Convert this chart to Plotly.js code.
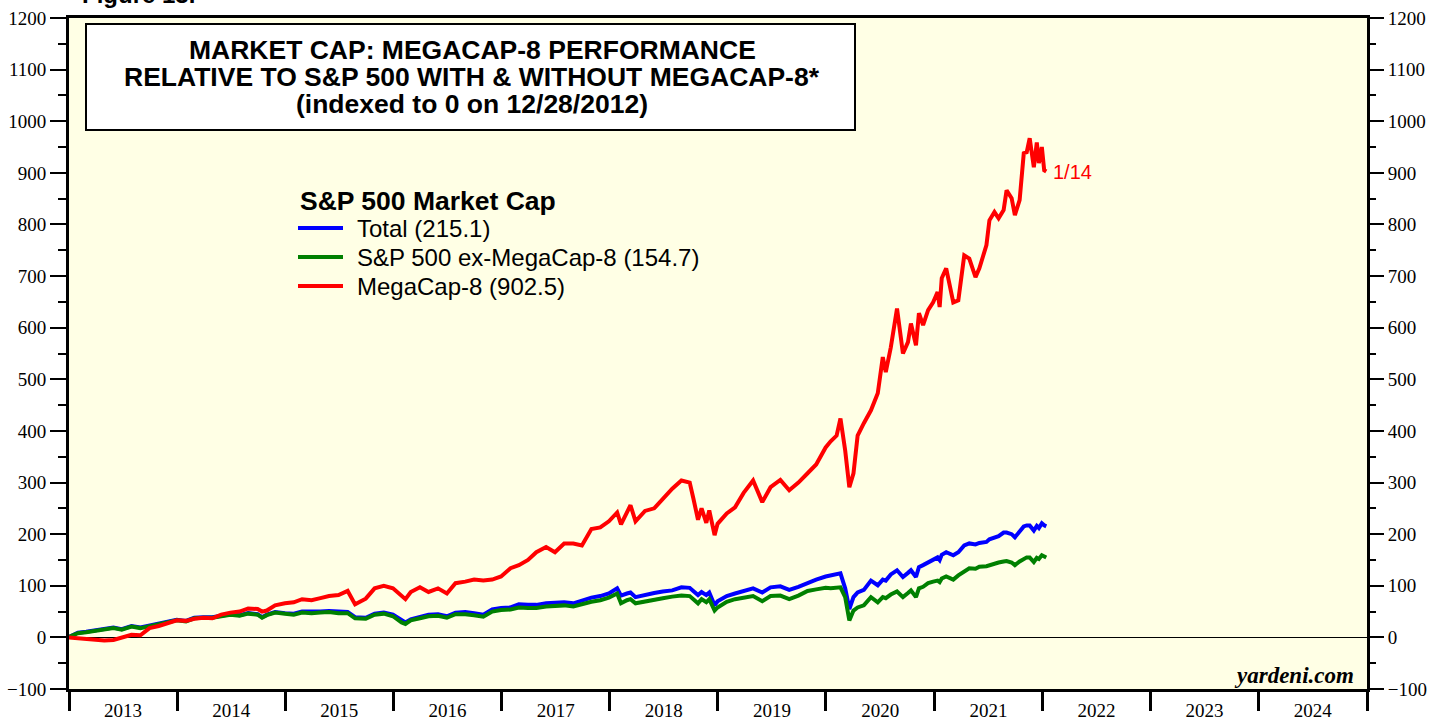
<!DOCTYPE html>
<html><head><meta charset="utf-8">
<script src="https://cdn.plot.ly/plotly-3.0.1.min.js"></script>
<style>html,body{margin:0;padding:0;background:#fff;} #chart{width:1446px;height:723px;}</style>
</head><body><div id="chart"></div>
<script>
// ---- data ----
const dates = [
 '2012-12-28',
 '2013-01-31','2013-02-28','2013-03-29','2013-04-30','2013-05-31','2013-06-28','2013-07-31','2013-08-30','2013-09-30','2013-10-31','2013-11-29','2013-12-31',
 '2014-01-31','2014-02-28','2014-03-31','2014-04-30','2014-05-30','2014-06-30','2014-07-31','2014-08-29','2014-09-30','2014-10-15','2014-10-31','2014-11-28','2014-12-31',
 '2015-01-30','2015-02-27','2015-03-31','2015-04-30','2015-05-29','2015-06-30','2015-07-31','2015-08-25','2015-09-30','2015-10-30','2015-11-30','2015-12-31',
 '2016-01-29','2016-02-11','2016-02-29','2016-03-31','2016-04-29','2016-05-31','2016-06-30','2016-07-29','2016-08-31','2016-09-30','2016-10-31','2016-11-30','2016-12-30',
 '2017-01-31','2017-02-28','2017-03-31','2017-04-28','2017-05-31','2017-06-30','2017-07-31','2017-08-31','2017-09-29','2017-10-31','2017-11-30','2017-12-29',
 '2018-01-26','2018-02-08','2018-02-28','2018-03-12','2018-03-29','2018-04-30','2018-05-31','2018-06-29','2018-07-31','2018-08-31','2018-09-28','2018-10-10','2018-10-26','2018-11-07','2018-11-23','2018-12-03','2018-12-21','2018-12-31',
 '2019-01-31','2019-02-28','2019-03-29','2019-04-30','2019-05-31','2019-06-28','2019-07-31','2019-08-30','2019-09-30','2019-10-31','2019-11-29','2019-12-31',
 '2020-01-17','2020-02-06','2020-02-19','2020-03-06','2020-03-20','2020-04-03','2020-04-17','2020-05-08','2020-06-01','2020-06-24','2020-07-11','2020-07-21','2020-08-07','2020-08-28','2020-09-17','2020-10-04','2020-10-14','2020-10-31','2020-11-10','2020-11-24','2020-12-11','2020-12-28',
 '2021-01-12','2021-01-19','2021-01-26','2021-02-10','2021-03-06','2021-03-23','2021-04-02','2021-04-12','2021-04-29','2021-05-20','2021-06-02','2021-06-26','2021-07-06','2021-07-23','2021-08-06','2021-08-23','2021-09-02','2021-09-19','2021-09-30','2021-10-16','2021-10-30','2021-11-09','2021-11-19','2021-12-03','2021-12-13','2021-12-20','2021-12-30',
 '2022-01-07','2022-01-14'
];
const totalVals = [
 0,
 9,11,14,16,19,16,22,19,23,28,31,34,
 32,38,39,39,42,45,43,47,45,39,44,49,47,
 46,50,49,50,51,49,49,39,38,46,48,44,
 32,29,35,40,44,45,41,48,49,47,44,54,57,
 58,64,63,63,66,67,68,66,72,77,80,85,
 95,81,85,87,78,83,86,89,91,97,96,90,82,88,82,87,62,70,
 80,85,90,95,87,97,99,92,98,106,112,118,
 120,122,124,95,55,78,87,92,110,101,112,110,122,130,117,125,130,117,136,140,145,152,
 155,150,160,165,159,165,172,178,182,180,183,185,190,194,196,203,203,200,194,205,215,217,217,207,216,212,221,
 217,215.1
];
const exMegaVals = [
 0,
 8,10,13,15,18,15,21,18,22,27,30,33,
 31,37,38,38,41,44,42,46,44,38,43,48,46,
 44,48,47,48,49,47,47,37,36,44,46,41,
 29,26,33,37,41,42,38,45,45,43,40,50,53,
 54,58,57,57,60,61,62,60,65,69,72,77,
 85,66,72,74,66,70,73,76,79,81,80,74,66,74,68,74,52,58,
 69,74,77,80,70,80,81,74,81,90,93,96,
 95,96,97,78,33,52,58,62,78,68,78,76,83,89,78,86,91,78,95,98,105,108,
 110,107,114,118,112,120,124,128,134,133,137,138,140,143,145,147,148,145,140,147,153,155,155,146,154,152,159,
 156,154.7
];
const megaVals = [
 0,
 -2,-4,-5,-6,-5,-1,5,4,18,22,28,33,
 32,36,38,37,44,48,50,56,55,50,52,62,66,
 68,74,72,76,80,82,90,64,75,95,100,95,
 80,74,88,97,88,95,85,105,108,112,110,112,118,
 134,140,150,165,175,165,182,182,178,210,213,225,
 242,219,240,256,225,245,250,268,288,304,300,270,228,250,222,246,198,220,
 240,252,280,304,262,291,305,285,300,318,335,368,
 380,391,424,362,291,318,391,415,440,473,543,514,562,637,550,572,608,566,628,605,634,649,
 669,640,696,715,649,653,696,740,734,698,715,760,808,824,812,828,866,851,818,847,938,940,967,911,959,919,950,
 905,902.5
];
const seriesNames = ['Total (215.1)', 'S&P 500 ex-MegaCap-8 (154.7)', 'MegaCap-8 (902.5)'];
const seriesColors = ['#0000ff', '#008000', '#ff0000'];
const legendTitle = 'S&P 500 Market Cap';
const titleLines = ['MARKET CAP: MEGACAP-8 PERFORMANCE', 'RELATIVE TO S&P 500 WITH & WITHOUT MEGACAP-8*', '(indexed to 0 on 12/28/2012)'];
const endLabel = '1/14';
const yTickVals = [-100,0,100,200,300,400,500,600,700,800,900,1000,1100,1200];
const xRange = ['2013-01-01', '2025-01-01'];
const yRange = [-100, 1200];

// ---- layout helpers (pixel -> paper) ----
const W = 1446, H = 723, L = 69, R = 1367, T = 18, B = 689;
const px = v => (v - L) / (R - L);
const py = v => (B - v) / (B - T);

const SANS = 'Liberation Sans, Arial, sans-serif';
const SERIF = 'Liberation Serif, Times New Roman, serif';

const seriesVals = [totalVals, exMegaVals, megaVals];
const traces = seriesVals.map((vals, i) => ({
  type: 'scatter', mode: 'lines', x: dates, y: vals, name: seriesNames[i],
  line: {color: seriesColors[i], width: 4}, showlegend: false, hoverinfo: 'skip'
}));

const shapes = [
  {type: 'rect', xref: 'paper', yref: 'paper', x0: px(86), x1: px(855), y0: py(130), y1: py(24),
   line: {color: '#000', width: 2}, fillcolor: '#ffffff', layer: 'above'}
];
const annotations = [];
const lineY = [50, 77, 104];
titleLines.forEach((t, i) => annotations.push({
  xref: 'paper', yref: 'paper', x: px(472), y: py(lineY[i]), xanchor: 'center', yanchor: 'middle',
  text: '<b>' + t + '</b>', showarrow: false, font: {family: SANS, size: 26.5, color: '#000'}
}));
// legend (drawn manually)
annotations.push({xref: 'paper', yref: 'paper', x: px(298), y: py(201), xanchor: 'left', yanchor: 'middle',
  text: '<b>' + legendTitle + '</b>', showarrow: false, font: {family: SANS, size: 26.5, color: '#000'}});
const legY = [228, 257, 286];
seriesNames.forEach((n, i) => {
  shapes.push({type: 'line', xref: 'paper', yref: 'paper', x0: px(298), x1: px(343), y0: py(legY[i]), y1: py(legY[i]),
    line: {color: seriesColors[i], width: 4}});
  annotations.push({xref: 'paper', yref: 'paper', x: px(355), y: py(legY[i]), xanchor: 'left', yanchor: 'middle',
    text: n, showarrow: false, font: {family: SANS, size: 24, color: '#000'}});
});
// end label
annotations.push({x: dates[dates.length - 1], y: megaVals[megaVals.length - 1], xref: 'x', yref: 'y',
  xanchor: 'left', yanchor: 'middle', xshift: 5, text: endLabel, showarrow: false,
  font: {family: SANS, size: 20, color: '#ff0000'}});
// source
annotations.push({xref: 'paper', yref: 'paper', x: px(1356), y: py(675), xanchor: 'right', yanchor: 'middle',
  text: '<b><i>yardeni.com</i></b>', showarrow: false, font: {family: SERIF, size: 23, color: '#000'}});
// clipped figure caption at the very top
annotations.push({xref: 'paper', yref: 'paper', x: px(80), y: py(-6), xanchor: 'left', yanchor: 'middle',
  text: '<b>Figure 13.</b>', showarrow: false, font: {family: SANS, size: 24, color: '#000'}});

const yCommon = {
  range: yRange, tickmode: 'array', tickvals: yTickVals, ticks: 'outside', ticklen: 16, tickwidth: 2,
  tickcolor: '#000', showgrid: false, tickfont: {family: SERIF, size: 19, color: '#000'},
  minor: {dtick: 50, tick0: 0, ticks: 'outside', ticklen: 8, tickwidth: 2, tickcolor: '#000', showgrid: false}
};

const layout = {
  width: W, height: H, margin: {l: L, r: W - R, t: T, b: H - B},
  paper_bgcolor: '#ffffff', plot_bgcolor: '#ffffe5', showlegend: false,
  xaxis: {type: 'date', range: xRange, tick0: '2013-01-01', dtick: 'M12', tickformat: '%Y',
    ticklabelmode: 'period', ticks: 'outside', ticklen: 19, tickwidth: 3, tickcolor: '#000',
    showline: true, linewidth: 3, linecolor: '#000', mirror: true, showgrid: false, zeroline: false,
    tickfont: {family: SERIF, size: 19, color: '#000'}, ticklabelstandoff: -17},
  yaxis: Object.assign({}, yCommon, {side: 'left', showline: true, linewidth: 3, linecolor: '#000', mirror: true,
    zeroline: true, zerolinecolor: '#000', zerolinewidth: 1}),
  yaxis2: Object.assign({}, yCommon, {side: 'right', overlaying: 'y', anchor: 'x', showline: false, zeroline: false}),
  shapes: shapes, annotations: annotations
};
// a hidden trace so the right-hand axis is built
traces.push({type: 'scatter', mode: 'lines', x: [dates[0]], y: [0], yaxis: 'y2', showlegend: false,
  hoverinfo: 'skip', line: {color: 'rgba(0,0,0,0)'}});

Plotly.newPlot('chart', traces, layout, {displayModeBar: false, staticPlot: true});
</script>
</body></html>
